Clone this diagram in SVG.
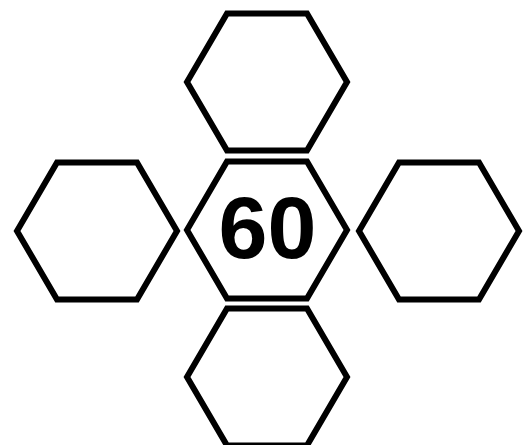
<svg xmlns="http://www.w3.org/2000/svg" width="530" height="445" viewBox="0 0 530 445">
<defs>
<style>
.hex{fill:#fff;stroke:#000;stroke-width:6;stroke-linejoin:miter}
.lbl{font-family:"Liberation Sans",Arial,sans-serif;font-weight:bold;font-size:88px;fill:#000;text-anchor:middle}
</style>
<polygon id="h" points="-80,0 -40,-68.5 40,-68.5 80,0 40,68.5 -40,68.5"/>
</defs>
<rect width="530" height="445" fill="#fff"/>
<g id="connectors"></g>
<g id="top"><use href="#h" class="hex" x="267" y="82"/></g>
<g id="center"><use href="#h" class="hex" x="267" y="230"/><text class="lbl" x="267.5" y="258">60</text></g>
<g id="bottom"><use href="#h" class="hex" x="267" y="377"/></g>
<g id="left"><use href="#h" class="hex" x="97" y="231"/></g>
<g id="right"><use href="#h" class="hex" x="439" y="231"/></g>
</svg>
